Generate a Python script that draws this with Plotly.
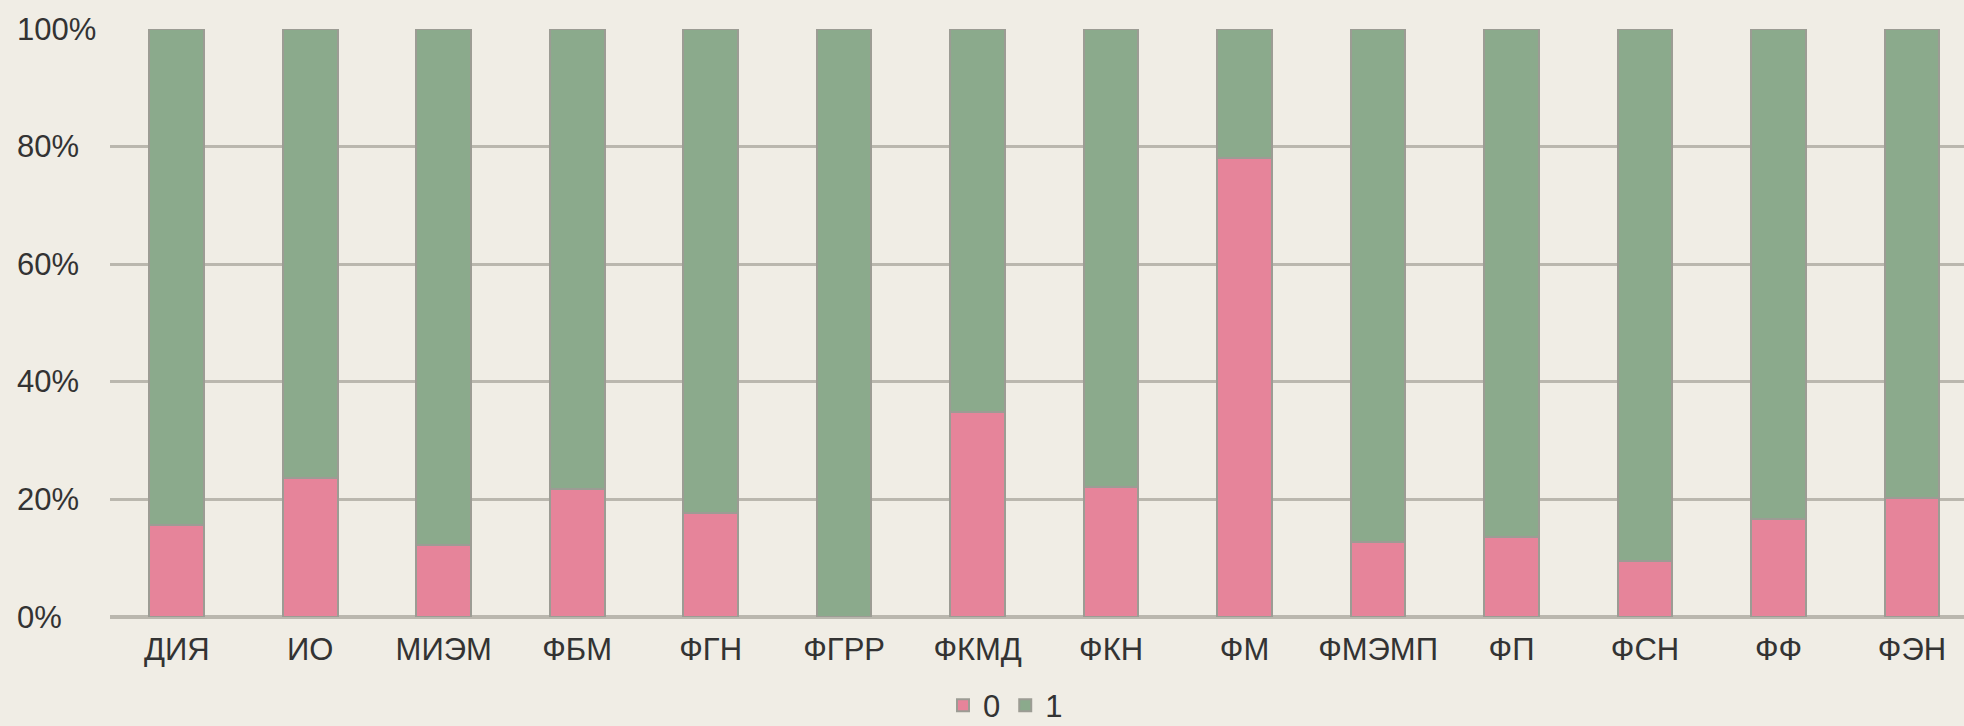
import plotly.graph_objects as go

categories = ["ДИЯ", "ИО", "МИЭМ", "ФБМ", "ФГН", "ФГРР", "ФКМД", "ФКН", "ФМ",
              "ФМЭМП", "ФП", "ФСН", "ФФ", "ФЭН"]
share_0 = [15.7, 23.6, 12.3, 21.7, 17.7, 0.0, 34.9, 22.1, 78.1, 12.8, 13.6, 9.6, 16.6, 20.2]
share_1 = [84.3, 76.4, 87.7, 78.3, 82.3, 100.0, 65.1, 77.9, 21.9, 87.2, 86.4, 90.4, 83.4, 79.8]
y_ticks = [0, 20, 40, 60, 80, 100]
y_tick_labels = ["0%", "20%", "40%", "60%", "80%", "100%"]

FONT = "Liberation Sans, Arial, sans-serif"
BG = "#F0EDE5"
PINK = "#E6849A"
GREEN = "#8BAA8C"
OUTLINE = "#9C9C94"
GRID = "#BAB7AE"
TEXT = "#333333"
FS = 31

fig = go.Figure()
fig.add_trace(go.Bar(name="0", x=categories, y=share_0,
                     marker=dict(color=PINK, line=dict(color=OUTLINE, width=2))))
fig.add_trace(go.Bar(name="1", x=categories, y=share_1,
                     marker=dict(color=GREEN, line=dict(color=OUTLINE, width=2))))

# left-aligned y tick labels
for v, t in zip(y_ticks, y_tick_labels):
    fig.add_annotation(x=-0.0512, xref="paper", y=v, yref="y", text=t,
                       showarrow=False, xanchor="left", yanchor="middle",
                       font=dict(family=FONT, size=FS, color=TEXT))

fig.update_layout(
    width=1964, height=726,
    barmode="stack", bargap=0.59,
    paper_bgcolor=BG, plot_bgcolor=BG,
    margin=dict(l=110, r=0, t=29, b=109, autoexpand=False),
    font=dict(family=FONT, size=FS, color=TEXT),
    showlegend=True,
    legend=dict(orientation="h", x=0.483, xanchor="center",
                yref="container", y=0.028, yanchor="middle",
                font=dict(size=FS, color=TEXT), traceorder="normal",
                itemwidth=30, bgcolor="rgba(0,0,0,0)"),
    xaxis=dict(range=[-0.5, 13.39], showgrid=False, showline=False, ticks="",
               automargin=False,
               tickfont=dict(size=FS, color=TEXT), ticklabelstandoff=11),
    yaxis=dict(range=[0, 100], tickvals=y_ticks, showticklabels=False,
               automargin=False,
               showgrid=True, gridcolor=GRID, gridwidth=3,
               zeroline=True, zerolinecolor=GRID, zerolinewidth=4,
               showline=False, ticks=""),
)

fig.write_html("out.html", config={"displayModeBar": False},
               post_script="document.body.style.margin='0';")
